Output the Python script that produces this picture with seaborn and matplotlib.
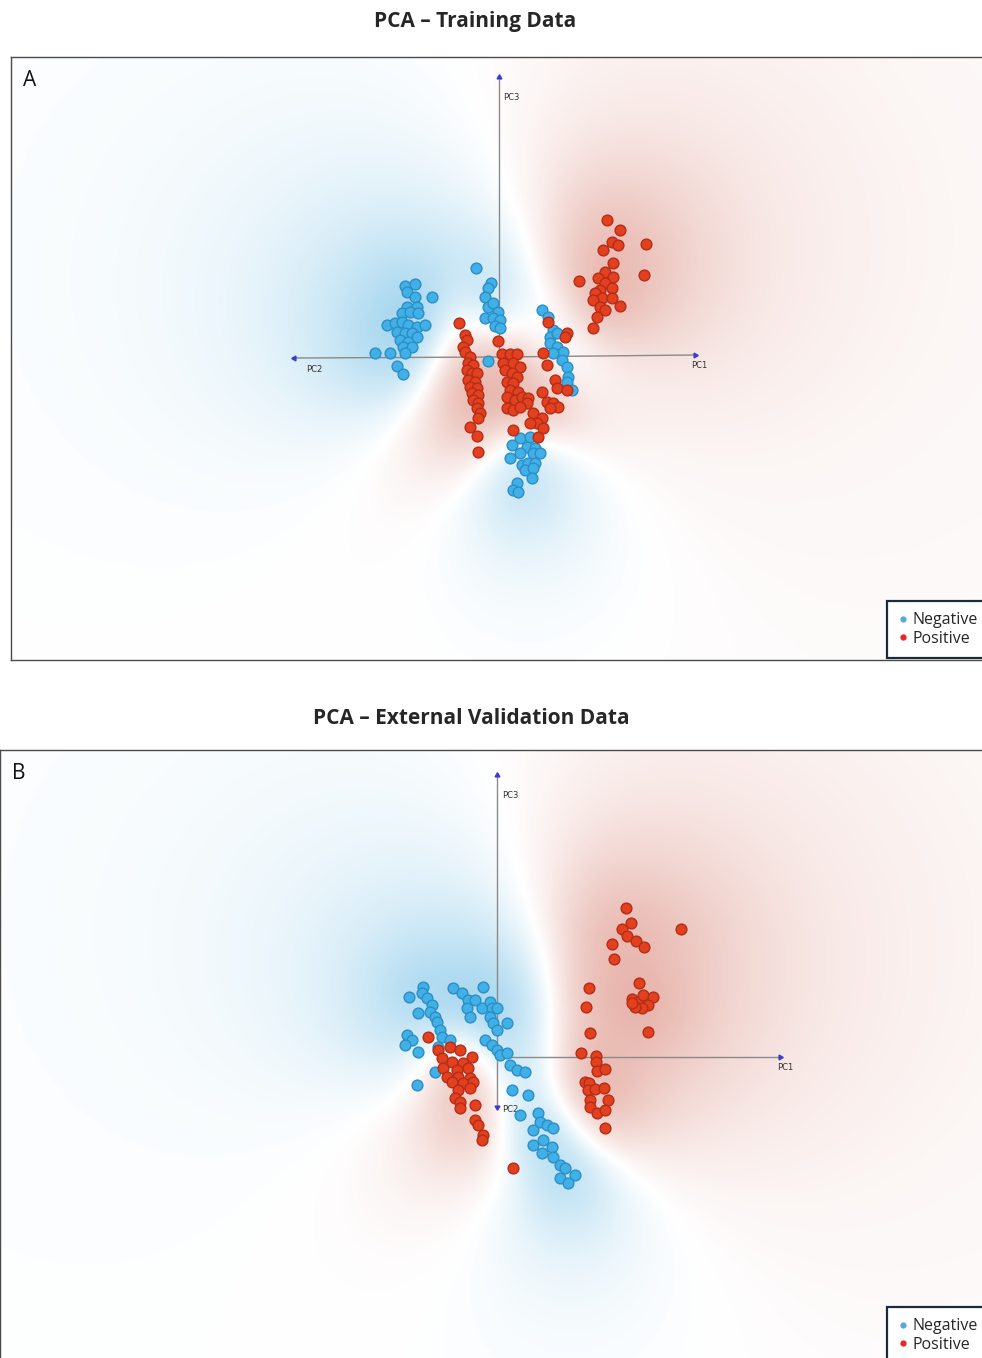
import numpy as np
import pandas as pd
import matplotlib
matplotlib.use("Agg")
import matplotlib.pyplot as plt
import seaborn as sns
from matplotlib.colors import LinearSegmentedColormap
from matplotlib.lines import Line2D

# ---------------- data: projected PCA scores (view coordinates) ----------------
train_neg_u = [-94, -84, -92, -84, -67, -92, -82, -97, -89, -81, -112, -104, -97, -91, -82, -74,
               -102, -94, -87, -82, -99, -91, -96, -87, -94, -124, -109, -102, -96,
               -23, -8, -11, -14, -11, -6, -1, -14, -6, 1, -4, 1, -11,
               43, 49, 54, 51, 58, 51, 58, 64, 54, 63, 68, 69, 68, 73,
               21, 31, 13, 28, 36, 21, 11, 34, 41, 23, 29, 36, 26, 34, 33, 18, 14, 19]
train_neg_v = [71, 73, 65, 60, 60, 50, 50, 44, 45, 44, 32, 34, 35, 32, 30, 32,
               25, 24, 24, 20, 17, 15, 10, 10, 4, 4, 4, -9, -17,
               89, 74, 69, 60, 50, 54, 45, 39, 39, 37, 31, 29, -4,
               47, 40, 27, 20, 24, 14, 10, 5, 4, -3, -10, -20, -25, -33,
               -81, -80, -88, -90, -91, -96, -101, -96, -96, -108, -106, -106, -113, -111, -121, -126, -133, -135]

train_pos_u = [108, 121, 113, 119, 104, 147, 114, 106, 99, 114, 145, 80, 106, 101, 113, 96, 103, 113,
               94, 121, 101, 106, 98, 94,
               -40, -34, -32, -36, -34, -29, -31, -26, -32, -27, -22, -31, -24, -29, -22, -27, -21,
               -26, -21, -22, -19, -21, -29, -22, -21, -1,
               3, 11, 18, 4, 14, 21, 6, 13, 18, 8, 14, 11, 19, 8, 16, 23, 29, 28, 8, 14, 21,
               48, 43, 54, 59, 51, 34, 43, 38, 31, 44, 39, 14, 56, 58, 68, 48, 44, 68, 66, 49]
train_pos_v = [137, 127, 115, 112, 107, 113, 94, 85, 79, 80, 82, 76, 74, 67, 69, 64, 59, 59,
               57, 51, 50, 47, 40, 29,
               34, 22, 17, 10, 5, 0, -6, -8, -13, -16, -16, -23, -25, -30, -31, -36, -38,
               -43, -46, -51, -56, -61, -70, -79, -95, 16,
               3, 3, 3, -6, -6, -10, -13, -16, -20, -25, -26, -33, -35, -40, -43, -40, -41, -46, -51, -53, -50,
               -45, -35, -46, -50, -51, -56, -61, -66, -66, -71, -80, -73, -23, -31, -33, -8, 4, 24, 20, 35]

valid_neg_u = [-88, -74, -75, -70, -65, -79, -67, -62, -60, -57, -55, -90, -85, -92, -79, -59, -47, -62, -80,
               -44, -35, -14, -29, -22, -30, -15, -7, -5, 0, -27, -7, -4, 10, 0, -12, -5, 0, 3, 10,
               13, 20, 28, 15, 31, 23, 41, 43, 50, 56, 36, 36, 46, 55, 45, 56, 63, 68, 78, 63, 71]
valid_neg_v = [60, 70, 64, 59, 52, 44, 45, 40, 35, 27, 20, 22, 17, 12, 5, 10, 17, -15, -28,
               69, 64, 70, 57, 57, 49, 49, 55, 49, 49, 40, 40, 34, 34, 27, 17, 12, 7, 2, 4,
               -8, -13, -15, -33, -38, -58, -56, -65, -68, -71, -73, -88, -83, -90, -96, -100, -108, -111, -118, -121, -126]

valid_pos_u = [-69, -59, -47, -37, -25, -55, -45, -34, -54, -40, -29, -50, -39, -27, -45, -34, -24,
               -39, -27, -42, -37, -22, -37, -22, -19, -14, -15, 16,
               129, 134, 125, 130, 139, 147, 115, 117, 184, 142, 135, 141, 146, 156, 151, 145, 138, 135, 151,
               92, 89, 93, 84, 99, 99, 100, 108, 88, 92, 91, 98, 107, 93, 111, 93, 100, 108, 108]
valid_pos_v = [20, 7, 10, 7, 0, -1, -5, -6, -11, -13, -11, -20, -20, -21, -25, -26, -25,
               -33, -31, -41, -45, -48, -51, -63, -68, -78, -83, -111,
               149, 134, 128, 121, 116, 110, 113, 98, 128, 74, 58, 55, 62, 60, 52, 49, 50, 54, 25,
               69, 50, 24, 4, 1, -5, -14, -12, -25, -26, -33, -32, -31, -43, -43, -50, -56, -53, -71]

# PC axis directions in the projected view (loadings of the 3D viewer)
train_axis_names = ["PC1", "PC2", "PC3"]
train_axis_u = [196, -205, 0]
train_axis_v = [2, -1, 280]
valid_axis_names = ["PC1", "PC2", "PC3"]
valid_axis_u = [283, 0, 0]
valid_axis_v = [0, -50, 282]

class_labels = ["Negative", "Positive"]
titles = ["PCA \u2013 Training Data", "PCA \u2013 External Validation Data"]
panel_letters = ["A", "B"]

# ---------------- style ----------------
sns.set_style("white")
plt.rcParams["font.family"] = ["Open Sans", "DejaVu Sans"]

NEG_FACE, NEG_EDGE = "#41b0e6", "#2b8ec6"
POS_FACE, POS_EDGE = "#e2401f", "#b32d17"
field_cmap = LinearSegmentedColormap.from_list(
    "field", [(0.0, "#6fbde4"), (0.5, "#ffffff"), (1.0, "#d9887a")])

W, H = 982, 1358
fig = plt.figure(figsize=(W / 100, H / 100), dpi=100)


def class_field(ax, pu, pv, nu, nv, xlim, ylim):
    gx = np.arange(xlim[0], xlim[1] + 2, 2.0)
    gy = np.arange(ylim[0], ylim[1] + 2, 2.0)
    X, Y = np.meshgrid(gx, gy)
    s_sign, s_int = 50.0, 45.0
    sp = np.zeros_like(X); sn = np.zeros_like(X)
    ip = np.zeros_like(X); i_n = np.zeros_like(X)
    for u, v in zip(pu, pv):
        d2 = (X - u) ** 2 + (Y - v) ** 2
        sp += 1.0 / (1.0 + d2 / s_sign ** 2) ** 2
        ip += 1.0 / (1.0 + d2 / s_int ** 2)
    for u, v in zip(nu, nv):
        d2 = (X - u) ** 2 + (Y - v) ** 2
        sn += 1.0 / (1.0 + d2 / s_sign ** 2) ** 2
        i_n += 1.0 / (1.0 + d2 / s_int ** 2)
    sign = (sp - sn) / (sp + sn)
    tot = ip + i_n
    inten = np.clip(tot / np.percentile(tot, 99.5), 0, 1) ** 0.4
    val = np.clip(sign * inten, -1, 1) * 0.85
    ax.imshow(val, extent=(gx[0], gx[-1], gy[0], gy[-1]), origin="lower",
              cmap=field_cmap, vmin=-1, vmax=1, interpolation="bilinear",
              aspect="auto", zorder=0)


def draw_panel(rect, xlim, ylim, pu, pv, nu, nv, ax_names, ax_u, ax_v, letter, label_offsets):
    ax = fig.add_axes(rect)
    class_field(ax, pu, pv, nu, nv, xlim, ylim)
    # PC axes
    for name, u, v, (dx, dy) in zip(ax_names, ax_u, ax_v, label_offsets):
        ax.plot([0, u], [0, v], color="#8a8a8a", lw=1.0, zorder=1)
        ang = np.degrees(np.arctan2(v, u))
        ax.plot([u], [v], marker=(3, 0, ang - 90), markersize=4, color="#3b3bd0", zorder=2)
        ax.text(u + dx, v + dy, name, fontsize=6, color="#333333", ha="left", va="center",
                family=["DejaVu Sans"], zorder=2)
    df_neg = pd.DataFrame({"u": nu, "v": nv})
    df_pos = pd.DataFrame({"u": pu, "v": pv})
    sns.scatterplot(data=df_neg, x="u", y="v", ax=ax, color=NEG_FACE, edgecolor=NEG_EDGE,
                    linewidth=1.0, s=60, zorder=3, legend=False)
    sns.scatterplot(data=df_pos, x="u", y="v", ax=ax, color=POS_FACE, edgecolor=POS_EDGE,
                    linewidth=1.0, s=60, zorder=4, legend=False)
    ax.set_xlim(*xlim)
    ax.set_ylim(*ylim)
    ax.set_xticks([])
    ax.set_yticks([])
    ax.set_xlabel("")
    ax.set_ylabel("")
    for sp in ax.spines.values():
        sp.set_color("#4a4a4a")
        sp.set_linewidth(1.0)
    ax.spines["right"].set_visible(False)
    bb = rect
    ax.text(12 / (bb[2] * W), 1 - 13 / (bb[3] * H), letter, transform=ax.transAxes,
            fontsize=15, ha="left", va="top", color="#111111")
    return ax


# Panel A
axA = draw_panel([11 / W, 1 - 660 / H, 971 / W, 603 / H], (-488, 483), (-303, 300),
                 train_pos_u, train_pos_v, train_neg_u, train_neg_v,
                 train_axis_names, train_axis_u, train_axis_v, panel_letters[0],
                 [(-4, -11), (12, -12), (4, -20)])
# Panel B
axB = draw_panel([0, 0, 1.0, 608 / H], (-497, 485), (-301, 307),
                 valid_pos_u, valid_pos_v, valid_neg_u, valid_neg_v,
                 valid_axis_names, valid_axis_u, valid_axis_v, panel_letters[1],
                 [(-3, -11), (5, -3), (5, -20)])
axB.spines["bottom"].set_visible(False)

fig.text(475 / W, 1 - 21 / H, titles[0], ha="center", va="center", fontsize=15, fontweight="bold")
fig.text(471 / W, 1 - 719 / H, titles[1], ha="center", va="center", fontsize=15, fontweight="bold")

handles = [Line2D([], [], marker="o", linestyle="", markersize=3.5, color=c)
           for c in ("#5aa6d6", "#e8242a")]
for top in (601, 1307):
    leg = fig.legend(handles, class_labels, loc="upper left",
                     bbox_to_anchor=(887 / W, 1 - top / H), borderaxespad=0,
                     fontsize=11.5, frameon=True, fancybox=False, handlelength=0.6,
                     handletextpad=0.3, labelspacing=0.15, borderpad=0.7)
    fr = leg.get_frame()
    fr.set_edgecolor("#1c2b3c")
    fr.set_linewidth(1.6)
    fr.set_facecolor("white")
    fr.set_alpha(1)

fig.savefig("out.png", dpi=100)
